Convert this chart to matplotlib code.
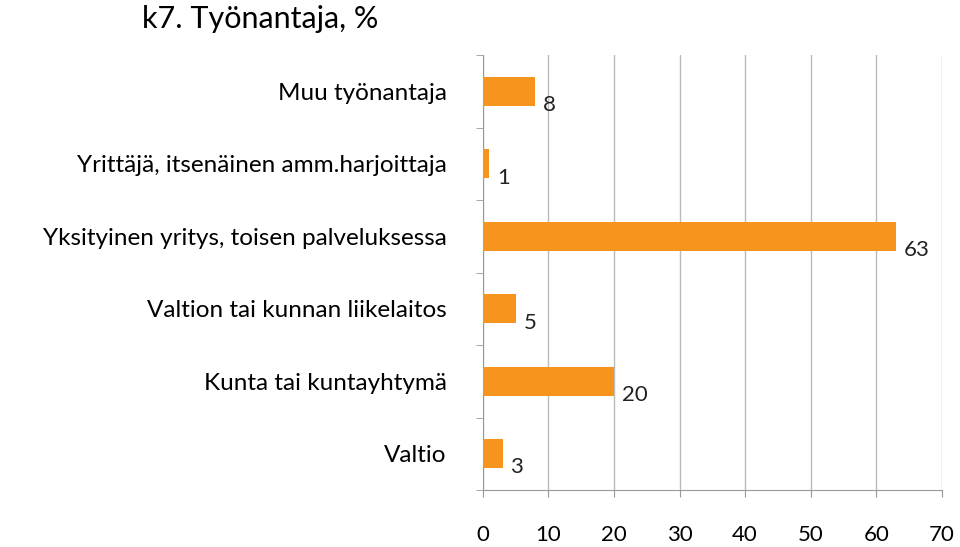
import matplotlib
matplotlib.use("Agg")
import matplotlib.pyplot as plt
plt.rcParams["font.family"] = "Lato"

categories = ["Valtio", "Kunta tai kuntayhtymä", "Valtion tai kunnan liikelaitos",
              "Yksityinen yritys, toisen palveluksessa",
              "Yrittäjä, itsenäinen amm.harjoittaja", "Muu työnantaja"]
values = [3, 20, 5, 63, 1, 8]
xticks = [0, 10, 20, 30, 40, 50, 60, 70]

fig = plt.figure(figsize=(9.6, 5.47), dpi=100)
ax = fig.add_axes([0.503, 0.104, 0.478, 0.795])
pos = list(range(len(categories)))
ax.barh(pos, values, height=0.4, color="#F7941D", zorder=3)
for p, v in zip(pos, values):
    ax.text(v + 1.2, p - 0.05, str(v), va="top", ha="left", fontsize=16, color="#222222")

ax.set_xlim(0, 70)
ax.set_ylim(-0.5, len(categories) - 0.5)
ax.set_xticks(xticks)
ax.set_xticklabels([str(t) for t in xticks], fontsize=16)
ax.tick_params(axis="x", pad=20, length=5, color="#999999", direction="out")
ax.set_yticks(pos)
ax.set_yticklabels(categories, fontsize=17.5)
ax.set_yticks([p + 0.5 for p in pos[:-1]] + [-0.5, len(categories) - 0.5], minor=True)
ax.tick_params(axis="y", which="major", length=0, pad=26)
ax.tick_params(axis="y", which="minor", length=5, color="#999999")
ax.grid(axis="x", color="#BBBBBB", linewidth=1, zorder=0)
for s in ["top", "right"]:
    ax.spines[s].set_visible(False)
ax.spines["left"].set_color("#999999")
ax.spines["bottom"].set_color("#999999")

fig.text(0.148, 0.965, "k7. Työnantaja, %", fontsize=22, va="center", ha="left")
fig.savefig("out.png", dpi=100)
